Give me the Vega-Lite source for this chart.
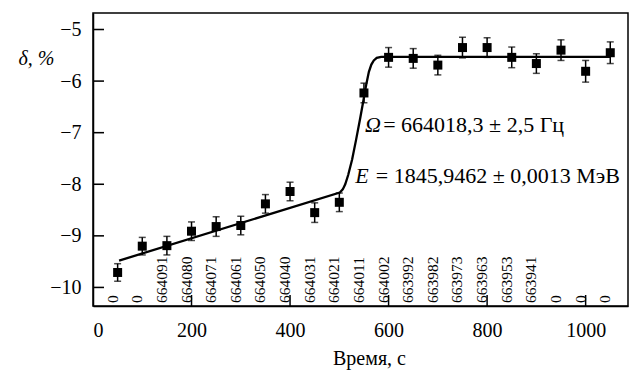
{
  "$schema": "https://vega.github.io/schema/vega-lite/v6.json",
  "width": 535,
  "height": 293,
  "autosize": "none",
  "padding": {"left": 93, "top": 13, "right": 6, "bottom": 65},
  "background": "white",
  "config": {
    "view": {"stroke": "black", "strokeWidth": 1.5},
    "font": "Liberation Serif",
    "text": {"font": "Liberation Serif"},
    "axis": {
      "grid": false,
      "domainColor": "black",
      "domainWidth": 1.5,
      "ticks": false,
      "labelColor": "black",
      "labelFont": "Liberation Serif",
      "labelFontSize": 20,
      "titleColor": "black",
      "titleFont": "Liberation Serif",
      "titleFontWeight": "normal",
      "titleFontSize": 20
    }
  },
  "datasets": {
    "pts": [
      {"t": 50, "v": -9.71, "err": 0.17, "label": "0"},
      {"t": 100, "v": -9.20, "err": 0.17, "label": "0"},
      {"t": 150, "v": -9.19, "err": 0.18, "label": "664091"},
      {"t": 200, "v": -8.91, "err": 0.18, "label": "664080"},
      {"t": 250, "v": -8.82, "err": 0.19, "label": "664071"},
      {"t": 300, "v": -8.80, "err": 0.18, "label": "664061"},
      {"t": 350, "v": -8.38, "err": 0.18, "label": "664050"},
      {"t": 400, "v": -8.14, "err": 0.18, "label": "664040"},
      {"t": 450, "v": -8.55, "err": 0.19, "label": "664031"},
      {"t": 500, "v": -8.35, "err": 0.18, "label": "664021"},
      {"t": 550, "v": -6.23, "err": 0.19, "label": "664011"},
      {"t": 600, "v": -5.54, "err": 0.19, "label": "664002"},
      {"t": 650, "v": -5.56, "err": 0.19, "label": "663992"},
      {"t": 700, "v": -5.69, "err": 0.19, "label": "663982"},
      {"t": 750, "v": -5.35, "err": 0.2, "label": "663973"},
      {"t": 800, "v": -5.35, "err": 0.19, "label": "663963"},
      {"t": 850, "v": -5.54, "err": 0.2, "label": "663953"},
      {"t": 900, "v": -5.66, "err": 0.19, "label": "663941"},
      {"t": 950, "v": -5.40, "err": 0.2, "label": "0"},
      {"t": 1000, "v": -5.81, "err": 0.21, "label": "0"},
      {"t": 1050, "v": -5.45, "err": 0.21, "label": "0"}
    ],
    "fit": [
      {"t": 53, "v": -9.48},
      {"t": 501, "v": -8.16},
      {"t": 507, "v": -8.10},
      {"t": 512, "v": -8.00},
      {"t": 518, "v": -7.82},
      {"t": 526, "v": -7.52},
      {"t": 534, "v": -7.14},
      {"t": 542, "v": -6.74},
      {"t": 549, "v": -6.37},
      {"t": 555, "v": -6.05},
      {"t": 560, "v": -5.82},
      {"t": 565, "v": -5.68},
      {"t": 570, "v": -5.60},
      {"t": 576, "v": -5.55},
      {"t": 585, "v": -5.53},
      {"t": 1050, "v": -5.53}
    ],
    "italic": [
      {"t": 552, "v": -6.985, "s": "Ω"},
      {"t": 532.5, "v": -7.985, "s": "E"}
    ],
    "plain": [
      {"t": 589, "v": -6.985, "s": "= 664018,3 ± 2,5 Гц"},
      {"t": 574, "v": -7.985, "s": "= 1845,9462 ± 0,0013 МэВ"}
    ],
    "tickmarks": [
      {"a": 0, "a2": 22.3, "b": -10.015, "b2": -9.985},
      {"a": 0, "a2": 22.3, "b": -9.015, "b2": -8.985},
      {"a": 0, "a2": 22.3, "b": -8.015, "b2": -7.985},
      {"a": 0, "a2": 22.3, "b": -7.015, "b2": -6.985},
      {"a": 0, "a2": 22.3, "b": -6.015, "b2": -5.985},
      {"a": 0, "a2": 22.3, "b": -5.015, "b2": -4.985},
      {"a": 198.5, "a2": 201.5, "b": -10.36, "b2": -10.147},
      {"a": 398.5, "a2": 401.5, "b": -10.36, "b2": -10.147},
      {"a": 598.5, "a2": 601.5, "b": -10.36, "b2": -10.147},
      {"a": 798.5, "a2": 801.5, "b": -10.36, "b2": -10.147},
      {"a": 998.5, "a2": 1001.5, "b": -10.36, "b2": -10.147}
    ]
  },
  "encoding": {
    "x": {
      "field": "t",
      "type": "quantitative",
      "scale": {"domain": [0, 1086], "nice": false, "zero": false},
      "axis": {
        "values": [0, 200, 400, 600, 800, 1000],
        "format": "d",
        "title": "Время, с",
        "labelPadding": 14,
        "titleBaseline": "middle",
        "titleX": 276,
        "titleY": 52
      }
    },
    "y": {
      "field": "v",
      "type": "quantitative",
      "scale": {"domain": [-10.36, -4.68], "nice": false, "zero": false},
      "axis": {
        "values": [-10, -9, -8, -7, -6, -5],
        "title": "δ, %",
        "titleFontStyle": "italic",
        "titleAngle": 0,
        "titleAlign": "right",
        "titleBaseline": "middle",
        "titleX": -39,
        "titleY": 45,
        "labelPadding": 12
      }
    }
  },
  "layer": [
    {
      "data": {"name": "fit"},
      "mark": {"type": "line", "color": "black", "strokeWidth": 2.3}
    },
    {
      "data": {"name": "pts"},
      "mark": {
        "type": "errorbar",
        "color": "black",
        "ticks": {"size": 7, "thickness": 1.5, "color": "black"},
        "rule": {"strokeWidth": 1.5, "color": "black"}
      },
      "encoding": {
        "yError": {"field": "err"}
      }
    },
    {
      "data": {"name": "pts"},
      "mark": {"type": "point", "shape": "square", "filled": true, "size": 81, "color": "black", "opacity": 1}
    },
    {
      "data": {"name": "pts"},
      "mark": {"type": "text", "angle": 270, "align": "left", "baseline": "alphabetic", "fontSize": 15.5, "color": "black"},
      "encoding": {
        "y": {"datum": -10.3, "type": "quantitative"},
        "text": {"field": "label"}
      }
    },
    {
      "data": {"name": "italic"},
      "mark": {"type": "text", "align": "left", "baseline": "alphabetic", "fontSize": 22, "fontStyle": "italic", "color": "black"},
      "encoding": {"text": {"field": "s"}}
    },
    {
      "data": {"name": "plain"},
      "mark": {"type": "text", "align": "left", "baseline": "alphabetic", "fontSize": 22, "color": "black"},
      "encoding": {"text": {"field": "s"}}
    },
    {
      "data": {"name": "tickmarks"},
      "mark": {"type": "rect", "color": "black", "opacity": 1},
      "encoding": {
        "x": {"field": "a", "type": "quantitative"},
        "x2": {"field": "a2"},
        "y": {"field": "b", "type": "quantitative"},
        "y2": {"field": "b2"}
      }
    }
  ]
}
